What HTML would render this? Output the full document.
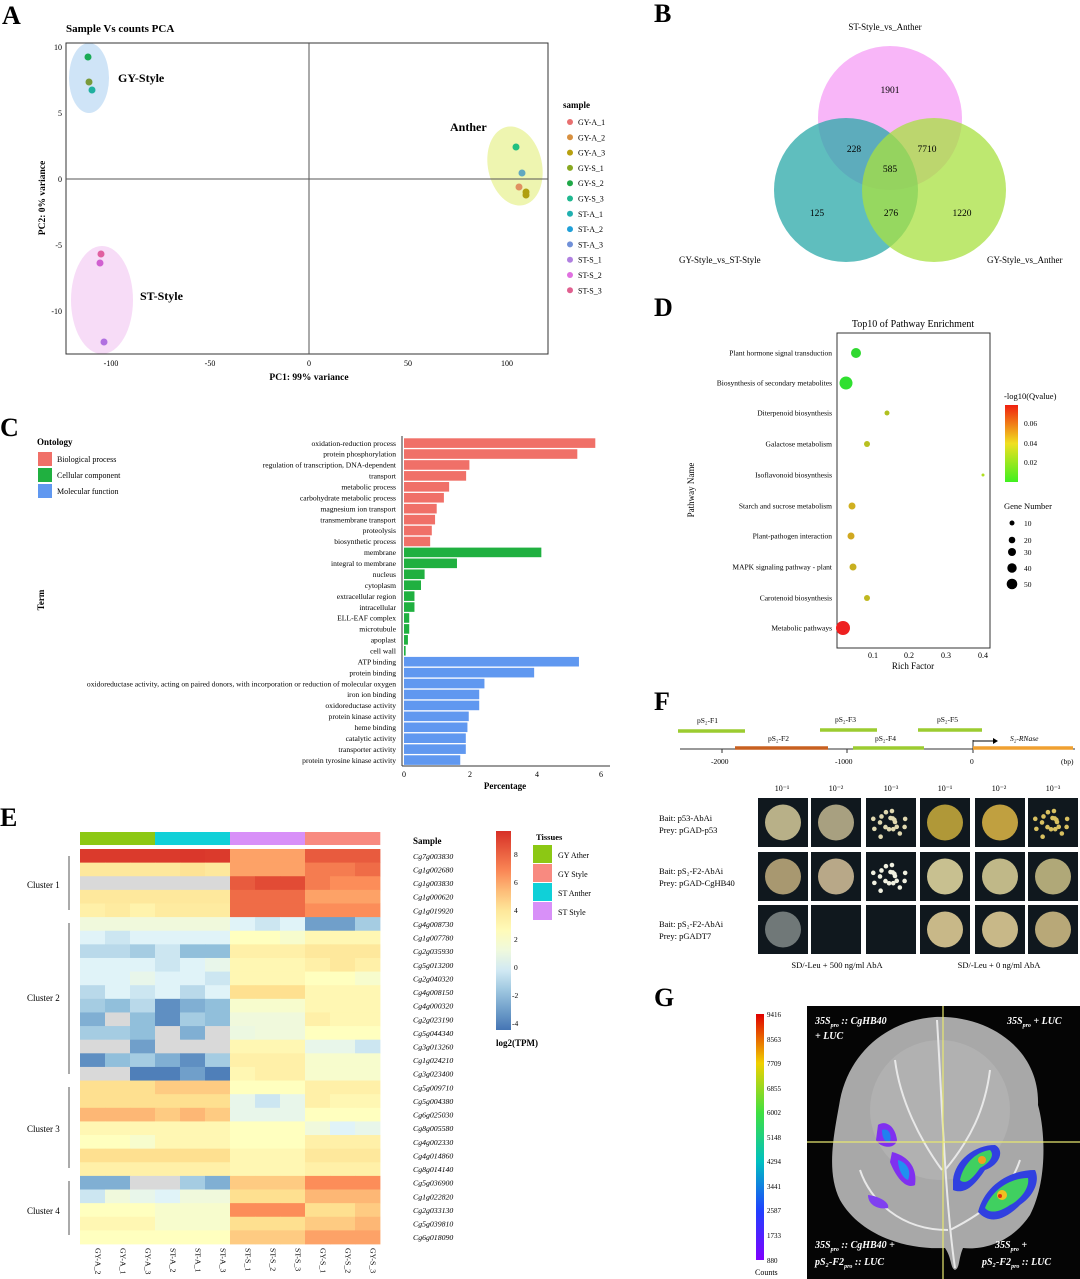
<!DOCTYPE html>
<html><head><meta charset="utf-8"><style>
html,body{margin:0;padding:0;background:#fff}
svg{display:block;font-family:"Liberation Serif",serif}
</style></head><body>
<svg id="s" width="1080" height="1279" viewBox="0 0 1080 1279" xmlns="http://www.w3.org/2000/svg">
<!-- Panel letters -->
<g font-weight="bold" font-size="26">
<text x="2" y="24">A</text><text x="654" y="22">B</text><text x="0" y="436">C</text>
<text x="654" y="316">D</text><text x="0" y="826">E</text><text x="654" y="710">F</text><text x="654" y="1006">G</text>
</g>
<!-- Panel A -->
<text x="66" y="32" font-size="11" font-weight="bold">Sample Vs counts PCA</text>
<ellipse cx="89" cy="78" rx="20" ry="35" fill="#cfe4f7"/>
<ellipse cx="102" cy="300" rx="31" ry="54" fill="#f7dcf7"/>
<ellipse cx="515" cy="166" rx="27" ry="40" fill="#eef5b0" transform="rotate(-12 515 166)"/>
<rect x="66" y="43" width="482" height="311" fill="none" stroke="#333" stroke-width="1"/>
<line x1="309" y1="43" x2="309" y2="354" stroke="#555"/>
<line x1="66" y1="179" x2="548" y2="179" stroke="#555"/>
<g font-size="8" text-anchor="middle">
<text x="111" y="366">-100</text><text x="210" y="366">-50</text><text x="309" y="366">0</text><text x="408" y="366">50</text><text x="507" y="366">100</text>
</g>
<g font-size="8" text-anchor="end">
<text x="62" y="50">10</text><text x="62" y="116">5</text><text x="62" y="182">0</text><text x="62" y="248">-5</text><text x="62" y="314">-10</text>
</g>
<text x="309" y="380" font-size="9.5" font-weight="bold" text-anchor="middle">PC1: 99% variance</text>
<text transform="translate(45 198) rotate(-90)" font-size="9.5" font-weight="bold" text-anchor="middle">PC2: 0% variance</text>
<g font-size="12" font-weight="bold"><text x="118" y="82">GY-Style</text><text x="140" y="300">ST-Style</text><text x="450" y="131">Anther</text></g>
<g>
<circle cx="88" cy="57" r="3.5" fill="#1aaa55"/><circle cx="89" cy="82" r="3.5" fill="#7a9a3a"/><circle cx="92" cy="90" r="3.5" fill="#20b0a0"/>
<circle cx="101" cy="254" r="3.5" fill="#e060a0"/><circle cx="100" cy="263" r="3.5" fill="#d060d0"/><circle cx="104" cy="342" r="3.5" fill="#b070e0"/>
<circle cx="516" cy="147" r="3.5" fill="#20c080"/><circle cx="522" cy="173" r="3.5" fill="#60a8c0"/><circle cx="519" cy="187" r="3.5" fill="#e09060"/>
<circle cx="526" cy="192" r="3.5" fill="#b0a010"/><circle cx="526" cy="195" r="3.5" fill="#b0a010"/>
</g>
<text x="563" y="108" font-size="9" font-weight="bold">sample</text>
<g font-size="8" id="leg"></g>
<!-- Panel B -->
<text x="885" y="30" font-size="9" text-anchor="middle">ST-Style_vs_Anther</text>
<circle cx="890" cy="118" r="72" fill="#f59ef5" fill-opacity="0.75"/>
<circle cx="846" cy="190" r="72" fill="#2aa8a8" fill-opacity="0.75"/>
<circle cx="934" cy="190" r="72" fill="#a8e040" fill-opacity="0.75"/>
<g font-size="9.5" text-anchor="middle">
<text x="890" y="93">1901</text><text x="854" y="152">228</text><text x="927" y="152">7710</text><text x="890" y="172">585</text>
<text x="817" y="216">125</text><text x="891" y="216">276</text><text x="962" y="216">1220</text>
</g>
<g font-size="9"><text x="679" y="263">GY-Style_vs_ST-Style</text><text x="987" y="263">GY-Style_vs_Anther</text></g>
<!-- Panel C -->
<text x="37" y="445" font-size="9" font-weight="bold">Ontology</text>
<rect x="38" y="452" width="14" height="14" fill="#f07068"/><text x="57" y="462" font-size="8">Biological process</text>
<rect x="38" y="468" width="14" height="14" fill="#20b040"/><text x="57" y="478" font-size="8">Cellular component</text>
<rect x="38" y="484" width="14" height="14" fill="#6098f0"/><text x="57" y="494" font-size="8">Molecular function</text>
<text transform="translate(44 600) rotate(-90)" font-size="9" font-weight="bold" text-anchor="middle">Term</text>
<g id="gobars"></g>
<line x1="402" y1="436" x2="402" y2="766" stroke="#333"/>
<line x1="402" y1="766" x2="610" y2="766" stroke="#333"/>
<g font-size="8" text-anchor="middle"><text x="404" y="777">0</text><text x="470" y="777">2</text><text x="537" y="777">4</text><text x="601" y="777">6</text></g>
<text x="505" y="789" font-size="9" font-weight="bold" text-anchor="middle">Percentage</text>
<!-- Panel D -->
<text x="913" y="327" font-size="10" text-anchor="middle">Top10 of Pathway Enrichment</text>
<rect x="837" y="333" width="153" height="315" fill="none" stroke="#333"/>
<g id="dpath" font-size="7.5" text-anchor="end"></g>
<text transform="translate(694 490) rotate(-90)" font-size="9" text-anchor="middle">Pathway Name</text>
<g font-size="8" text-anchor="middle"><text x="873" y="658">0.1</text><text x="909" y="658">0.2</text><text x="946" y="658">0.3</text><text x="983" y="658">0.4</text></g>
<text x="913" y="669" font-size="9" text-anchor="middle">Rich Factor</text>
<g>
<circle cx="856" cy="353" r="5" fill="#30d830"/><circle cx="846" cy="383" r="6.5" fill="#30e030"/>
<circle cx="887" cy="413" r="2.5" fill="#b0c020"/><circle cx="867" cy="444" r="3" fill="#b8c020"/>
<circle cx="983" cy="475" r="1.5" fill="#b0e020"/><circle cx="852" cy="506" r="3.5" fill="#d0b020"/>
<circle cx="851" cy="536" r="3.5" fill="#d0a820"/><circle cx="853" cy="567" r="3.5" fill="#c8b020"/>
<circle cx="867" cy="598" r="3" fill="#c0b820"/><circle cx="843" cy="628" r="7" fill="#ee2020"/>
</g>
<text x="1004" y="399" font-size="8.5">-log10(Qvalue)</text>
<defs>
<linearGradient id="gq" x1="0" y1="1" x2="0" y2="0"><stop offset="0" stop-color="#40f020"/><stop offset="0.5" stop-color="#f0e020"/><stop offset="1" stop-color="#f02010"/></linearGradient>
<linearGradient id="gg" x1="0" y1="1" x2="0" y2="0"><stop offset="0" stop-color="#8000ff"/><stop offset="0.2" stop-color="#2040ff"/><stop offset="0.4" stop-color="#00c0c0"/><stop offset="0.6" stop-color="#40e040"/><stop offset="0.8" stop-color="#f0d000"/><stop offset="1" stop-color="#e00000"/></linearGradient>
</defs>
<rect x="1005" y="405" width="13" height="77" fill="url(#gq)"/>
<g font-size="7.5"><text x="1024" y="426">0.06</text><text x="1024" y="446">0.04</text><text x="1024" y="465">0.02</text></g>
<text x="1004" y="509" font-size="8.5">Gene Number</text>
<g fill="#000"><circle cx="1012" cy="523" r="2.5"/><circle cx="1012" cy="540" r="3.3"/><circle cx="1012" cy="552" r="4"/><circle cx="1012" cy="568" r="4.7"/><circle cx="1012" cy="584" r="5.3"/></g>
<g font-size="7.5"><text x="1024" y="526">10</text><text x="1024" y="543">20</text><text x="1024" y="555">30</text><text x="1024" y="571">40</text><text x="1024" y="587">50</text></g>
<!-- Panel E -->
<g id="heat"></g>
<text x="413" y="844" font-size="9" font-weight="bold">Sample</text>
<g font-size="9"><text x="27" y="888">Cluster 1</text><text x="27" y="1001">Cluster 2</text><text x="27" y="1132">Cluster 3</text><text x="27" y="1214">Cluster 4</text></g>
<g stroke="#555"><line x1="69" y1="856" x2="69" y2="910"/><line x1="69" y1="923" x2="69" y2="1074"/><line x1="69" y1="1087" x2="69" y2="1168"/><line x1="69" y1="1181" x2="69" y2="1235"/></g>
<rect x="496" y="831" width="15" height="199" fill="url(#hm)"/>
<g font-size="7.5"><text x="514" y="857">8</text><text x="514" y="885">6</text><text x="514" y="913">4</text><text x="514" y="942">2</text><text x="514" y="970">0</text><text x="512" y="998">-2</text><text x="512" y="1026">-4</text></g>
<text x="496" y="1046" font-size="9" font-weight="bold">log2(TPM)</text>
<text x="536" y="840" font-size="8.5" font-weight="bold">Tissues</text>
<rect x="533" y="845" width="19" height="18" fill="#8cc814"/><text x="558" y="858" font-size="8">GY Ather</text>
<rect x="533" y="864" width="19" height="18" fill="#f88a80"/><text x="558" y="877" font-size="8">GY Style</text>
<rect x="533" y="883" width="19" height="18" fill="#10d0d8"/><text x="558" y="896" font-size="8">ST Anther</text>
<rect x="533" y="902" width="19" height="18" fill="#d890f8"/><text x="558" y="915" font-size="8">ST Style</text>
<!-- Panel F -->
<line x1="680" y1="749" x2="1075" y2="749" stroke="#333"/>
<g stroke="#333"><line x1="722" y1="749" x2="722" y2="753"/><line x1="847" y1="749" x2="847" y2="753"/><line x1="973" y1="740" x2="973" y2="753"/></g>
<g stroke-width="3.5"><line x1="678" y1="731" x2="745" y2="731" stroke="#9ccc30"/><line x1="735" y1="748" x2="828" y2="748" stroke="#c86020"/>
<line x1="820" y1="730" x2="877" y2="730" stroke="#9ccc30"/><line x1="853" y1="748" x2="924" y2="748" stroke="#9ccc30"/>
<line x1="918" y1="730" x2="982" y2="730" stroke="#9ccc30"/><line x1="973" y1="748" x2="1073" y2="748" stroke="#f0a030"/></g>
<path d="M973 741 L995 741" stroke="#000" fill="none"/><path d="M993 738 L998 741 L993 744Z"/>
<g font-size="7.5"><text x="697" y="723">pS₂-F1</text><text x="768" y="741">pS₂-F2</text><text x="835" y="722">pS₂-F3</text><text x="875" y="741">pS₂-F4</text><text x="937" y="722">pS₂-F5</text><text x="1010" y="741" font-style="italic">S₂-RNase</text>
<text x="711" y="764">-2000</text><text x="835" y="764">-1000</text><text x="970" y="764">0</text><text x="1061" y="764">(bp)</text></g>
<g font-size="8" text-anchor="middle"><text x="782" y="791">10⁻¹</text><text x="836" y="791">10⁻²</text><text x="891" y="791">10⁻³</text><text x="945" y="791">10⁻¹</text><text x="999" y="791">10⁻²</text><text x="1053" y="791">10⁻³</text></g>
<g font-size="8.5"><text x="659" y="821">Bait: p53-AbAi</text><text x="659" y="833">Prey: pGAD-p53</text>
<text x="659" y="874">Bait: pS₂-F2-AbAi</text><text x="659" y="886">Prey: pGAD-CgHB40</text>
<text x="659" y="927">Bait: pS₂-F2-AbAi</text><text x="659" y="939">Prey: pGADT7</text></g>
<g id="yeast"></g>
<g font-size="8.5" text-anchor="middle"><text x="837" y="968">SD/-Leu + 500 ng/ml AbA</text><text x="999" y="968">SD/-Leu + 0 ng/ml AbA</text></g>
<!-- Panel G -->
<rect x="756" y="1014" width="8" height="246" fill="url(#gg)"/>
<g font-size="7"><text x="767" y="1017">9416</text><text x="767" y="1042">8563</text><text x="767" y="1066">7709</text><text x="767" y="1091">6855</text><text x="767" y="1115">6002</text><text x="767" y="1140">5148</text><text x="767" y="1164">4294</text><text x="767" y="1189">3441</text><text x="767" y="1213">2587</text><text x="767" y="1238">1733</text><text x="767" y="1263">880</text></g>
<text x="755" y="1275" font-size="8">Counts</text>
<rect x="807" y="1006" width="273" height="273" fill="#050505"/>
<path d="M935 1017 C990 1015 1040 1050 1038 1105 C1045 1130 1048 1180 1030 1215 C1010 1245 980 1250 963 1248 C958 1260 960 1268 955 1270 C950 1268 952 1258 945 1248 C905 1250 860 1235 840 1200 C825 1170 835 1130 840 1100 C850 1050 890 1020 935 1017Z" fill="#a8a8a8"/>
<ellipse cx="940" cy="1110" rx="70" ry="70" fill="#b8b8b8" opacity="0.6"/>
<g stroke="#e8e8e8" stroke-width="2" fill="none"><path d="M937 1020 C942 1100 945 1200 955 1268"/><path d="M942 1170 C920 1140 900 1100 895 1060"/><path d="M945 1170 C970 1140 985 1110 990 1070"/><path d="M948 1230 C900 1230 870 1200 860 1170"/><path d="M950 1230 C990 1210 1010 1190 1020 1160"/></g>
<g>
<path d="M878 1125 C885 1120 895 1125 897 1140 C895 1150 880 1148 876 1140Z" fill="#8030f0"/><path d="M882 1130 C888 1128 892 1133 890 1142 C885 1143 882 1138 882 1130Z" fill="#2080f0"/>
<path d="M892 1152 C905 1155 918 1165 915 1185 C905 1190 895 1175 890 1162Z" fill="#8030f0"/><path d="M898 1160 C906 1162 912 1170 908 1180 C902 1178 898 1168 898 1160Z" fill="#2090f0"/>
<path d="M868 1195 C878 1196 890 1202 888 1208 C878 1210 868 1205 868 1195Z" fill="#8040f0"/>
<path d="M953 1180 C955 1160 975 1145 995 1145 C1005 1150 1000 1165 985 1170 C975 1185 965 1195 953 1190Z" fill="#3040e0"/>
<path d="M960 1180 C963 1165 975 1152 990 1150 C995 1155 990 1163 980 1168 C972 1180 965 1185 960 1180Z" fill="#40d060"/>
<circle cx="982" cy="1160" r="4" fill="#f0a020"/>
<path d="M978 1212 C985 1185 1010 1170 1035 1170 C1040 1180 1035 1195 1020 1205 C1005 1220 990 1225 978 1212Z" fill="#3040e0"/>
<path d="M985 1208 C992 1190 1010 1178 1028 1178 C1030 1188 1020 1200 1010 1205 C1000 1212 990 1214 985 1208Z" fill="#40d060"/>
<circle cx="1002" cy="1195" r="5" fill="#f0c020"/><circle cx="1000" cy="1196" r="2" fill="#e03010"/>
</g>
<line x1="943" y1="1006" x2="943" y2="1279" stroke="#e8e870" stroke-width="1.2"/>
<line x1="807" y1="1142" x2="1080" y2="1142" stroke="#e8e870" stroke-width="1.2"/>
<g fill="#fff" font-size="10" font-weight="bold" font-style="italic">
<text x="815" y="1024">35S<tspan font-size="6" dy="3">pro</tspan><tspan dy="-3"> :: CgHB40</tspan></text><text x="815" y="1039">+ LUC</text>
<text x="1007" y="1024">35S<tspan font-size="6" dy="3">pro</tspan><tspan dy="-3"> + LUC</tspan></text>
<text x="815" y="1248">35S<tspan font-size="6" dy="3">pro</tspan><tspan dy="-3"> :: CgHB40 +</tspan></text><text x="815" y="1265">pS₂-F2<tspan font-size="6" dy="3">pro</tspan><tspan dy="-3"> :: LUC</tspan></text>
<text x="995" y="1248">35S<tspan font-size="6" dy="3">pro</tspan><tspan dy="-3"> +</tspan></text><text x="982" y="1265">pS₂-F2<tspan font-size="6" dy="3">pro</tspan><tspan dy="-3"> :: LUC</tspan></text>
</g>
</svg>
<script>
var NS="http://www.w3.org/2000/svg",S=document.getElementById('s');
function el(t,a,p,txt){var e=document.createElementNS(NS,t);for(var k in a)e.setAttribute(k,a[k]);if(txt!=null)e.textContent=txt;(p||S).appendChild(e);return e;}
// legend A
var lg=document.getElementById('leg'),ln=['GY-A_1','GY-A_2','GY-A_3','GY-S_1','GY-S_2','GY-S_3','ST-A_1','ST-A_2','ST-A_3','ST-S_1','ST-S_2','ST-S_3'],
lc=['#e87070','#d89040','#b8a010','#88a820','#20a848','#20b890','#20b0b0','#20a0d8','#7090d8','#b080e0','#e070e0','#e06090'];
ln.forEach(function(n,i){var y=122+i*15.3;el('circle',{cx:570,cy:y,r:3,fill:lc[i]},lg);el('text',{x:578,y:y+3},lg,n);});
// GO bars
var gb=document.getElementById('gobars');
var terms=['oxidation-reduction process','protein phosphorylation','regulation of transcription, DNA-dependent','transport','metabolic process','carbohydrate metabolic process','magnesium ion transport','transmembrane transport','proteolysis','biosynthetic process','membrane','integral to membrane','nucleus','cytoplasm','extracellular region','intracellular','ELL-EAF complex','microtubule','apoplast','cell wall','ATP binding','protein binding','oxidoreductase activity, acting on paired donors, with incorporation or reduction of molecular oxygen','iron ion binding','oxidoreductase activity','protein kinase activity','heme binding','catalytic activity','transporter activity','protein tyrosine kinase activity'];
var vals=[5.85,5.3,2,1.9,1.38,1.22,1.0,0.95,0.85,0.8,4.2,1.62,0.63,0.52,0.32,0.32,0.16,0.16,0.12,0.05,5.35,3.98,2.46,2.3,2.3,1.98,1.94,1.89,1.89,1.72];
terms.forEach(function(t,i){var y=443+i*10.93,c=i<10?'#f07068':(i<20?'#20b040':'#6098f0');
el('rect',{x:404,y:y-4.7,width:vals[i]*32.7,height:9.6,fill:c},gb);
el('text',{x:396,y:y+2.8,'font-size':7.6,'text-anchor':'end'},gb,t);});
// D labels
var dp=document.getElementById('dpath'),pn=['Plant hormone signal transduction','Biosynthesis of secondary metabolites','Diterpenoid biosynthesis','Galactose metabolism','Isoflavonoid biosynthesis','Starch and sucrose metabolism','Plant-pathogen interaction','MAPK signaling pathway - plant','Carotenoid biosynthesis','Metabolic pathways'],py=[353,383,413,444,475,506,536,567,598,628];
pn.forEach(function(n,i){el('text',{x:832,y:py[i]+2.5},dp,n);});
// heatmap colormap
var stops=[[-4.3,[69,117,180]],[-2,[145,191,219]],[0,[224,243,248]],[2,[255,255,191]],[4,[254,224,144]],[6,[252,141,89]],[8.8,[215,48,39]]];
function cm(v){if(v===null)return '#d9d9d9';for(var i=0;i<stops.length-1;i++){var a=stops[i],b=stops[i+1];if(v<=b[0]||i==stops.length-2){var t=Math.max(0,Math.min(1,(v-a[0])/(b[0]-a[0])));return 'rgb('+[0,1,2].map(function(k){return Math.round(a[1][k]+(b[1][k]-a[1][k])*t)}).join(',')+')';}}}
var defs=S.querySelector('defs'),lgr=el('linearGradient',{id:'hm',x1:0,y1:1,x2:0,y2:0},defs);
for(var k=0;k<=10;k++){var v=-4.3+k*1.31;el('stop',{offset:k/10,'stop-color':cm(v)},lgr);}
var N=null,D=[
[8.5,8.5,8.5,8.5,8.6,8.5,5.5,5.5,5.5,7.5,7.5,7.5],
[3.5,3.5,3.5,3.5,3.8,3.5,5.5,5.5,5.5,6.5,6.5,7],
[N,N,N,N,N,N,7.5,8,8,6.5,6,6],
[3.5,3.5,3.5,3.5,3.5,3.5,7,7,7,5.5,5.5,5.5],
[3,3.3,2.8,3.3,3.3,3.3,7,7,7,6,6,6],
[1,1,1,1,1,1,0,-0.5,0,-3,-3,-1.5],
[0,-0.5,0,0,0,0,2,2,1.5,2.5,2.5,2.5],
[-1,-1,-1.5,-0.5,-2,-2,3,3,3,3.5,3.5,3.5],
[0,0,0,-0.5,0,0.5,2.5,2.5,2.5,3,3.5,3],
[0,0,0.5,0,0,-0.5,2.5,2.5,2.5,2,2,1.5],
[-1,0,-0.5,0,-1,0,4,4,4,2.5,2.5,2.5],
[-1.5,-2,-1,-3.5,-2.5,-2,1.5,1.5,1.5,2.5,2.5,2.5],
[-2.5,N,-2,-3.5,-1.5,-2,1,1,1,3,2.5,2.5],
[-1.5,-1.5,-2,N,-2.5,N,0.8,1,1,2,2,2],
[N,N,-3,N,N,N,2.5,2.5,2.5,0.5,0.5,-0.5],
[-3.5,-2,-1.5,-2.5,-3.5,-1.5,3,3,3,1.5,1.5,1.5],
[N,N,-4,-4,-3,-4,2.5,3,3,1.5,1.5,1.5],
[4,4,4,4.5,4.5,4.5,2,2,2,3,3,3],
[4,4,4,4,4,4,0.5,-0.5,0.5,3,2.5,2.5],
[5,5,5,4.5,5,4.5,0.5,0.5,0.5,2,2,2],
[2.5,2.5,2.5,2.5,2.5,2.5,2,2,2,1,0,0.5],
[2,2,1.5,2.5,2.5,2.5,2,2,2,3,3,3],
[4,4,4,4,4,4,2.5,2.5,2.5,3.5,3.5,3.5],
[3,3,3,3,3,3,2.5,2.5,2.5,3,3,3],
[-2.5,-2.5,N,N,-1.5,-2.5,4.5,4.5,4.5,6,6,6],
[-0.5,1,0.5,0,1,1,4,4,4,5,5,5],
[2,2,2,1.5,1.5,1.5,6,6,6,4,4,4.5],
[2.5,2.5,2.5,1.5,1.5,1.5,4,4,4,4.5,4.5,5],
[2,2,2,2,2,2,4.5,4.5,4.5,5.5,5.5,5.5]];
var genes=['Cg7g003830','Cg1g002680','Cg1g003830','Cg1g000620','Cg1g019920','Cg4g008730','Cg1g007780','Cg2g035930','Cg5g013200','Cg2g040320','Cg4g008150','Cg4g000320','Cg2g023190','Cg5g044340','Cg3g013260','Cg1g024210','Cg3g023400','Cg5g009710','Cg5g004380','Cg6g025030','Cg8g005580','Cg4g002330','Cg4g014860','Cg8g014140','Cg5g036900','Cg1g022820','Cg2g033130','Cg5g039810','Cg6g018090'];
var hg=document.getElementById('heat'),x0=80,cw=300/12,y0=849,rh=395/29;
D.forEach(function(r,i){r.forEach(function(v,j){el('rect',{x:x0+j*cw,y:y0+i*rh,width:cw+0.4,height:rh+0.4,fill:cm(v)},hg);});
el('text',{x:413,y:y0+i*rh+rh*0.72,'font-size':7.8,'font-style':'italic'},hg,genes[i]);});
var sc=['#8cc814','#10d0d8','#d890f8','#f88a80'];
sc.forEach(function(c,k){el('rect',{x:x0+k*75,y:832,width:75.3,height:13,fill:c},hg);});
var cn=['GY-A_2','GY-A_1','GY-A_3','ST-A_2','ST-A_1','ST-A_3','ST-S_1','ST-S_2','ST-S_3','GY-S_1','GY-S_2','GY-S_3'];
cn.forEach(function(n,j){var x=x0+j*cw+cw/2+3;el('text',{transform:'translate('+x+' 1248) rotate(90)','font-size':7.8},hg,n);});
// yeast
var yg=document.getElementById('yeast'),cx=[758,811,866,920,975,1028],ry=[798,852,905];
var cols=[['#b8b088','#a8a080','#e0d8b0','#b09838','#c0a040','#d8c060'],['#a89870','#b8a888','#f0f0e0','#c8c090','#c0b888','#b0a878'],['#707878',null,null,'#c8b888','#c8b888','#b8a878']];
for(var r=0;r<3;r++)for(var c=0;c<6;c++){el('rect',{x:cx[c],y:ry[r],width:50,height:49,fill:'#10181e'},yg);var f=cols[r][c];
if(f){if(c==2&&r<2||c==5&&r==0){for(var q=0;q<18;q++){var a=q*2.4,rr=4+(q%5)*3.5;el('circle',{cx:cx[c]+25+Math.cos(a)*rr,cy:ry[r]+24+Math.sin(a)*rr,r:2.3,fill:f},yg);}}
else el('circle',{cx:cx[c]+25,cy:ry[r]+24.5,r:18,fill:f},yg);}}
</script>
</body></html>
